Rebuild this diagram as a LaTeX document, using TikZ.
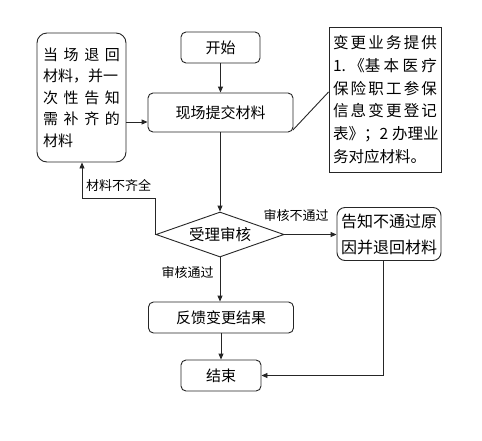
\documentclass[tikz,border=0pt]{standalone}
\usepackage{fontspec}
\setmainfont{Noto Sans CJK SC}
\usetikzlibrary{arrows.meta,shapes.geometric,calc}
\begin{document}
\begin{tikzpicture}[x=1pt,y=-1pt,
  line width=0.9pt,
  every node/.style={inner sep=0pt},
  box/.style={draw=black!85, rounded corners=5pt, font=\fontsize{15}{18}\selectfont, align=center},
  arr/.style={draw=black!85, -{Triangle[length=6pt,width=5pt]}},
  lbl/.style={font=\fontsize{13}{15}\selectfont},
]
\useasboundingbox[fill=white] (0,0) rectangle (482,440);

\node[box, minimum width=79pt, minimum height=31pt] (start) at (220.5,47.5) {开始};
\node[box, minimum width=145pt, minimum height=39pt] (submit) at (220.5,112.5) {现场提交材料};
\node[box, rounded corners=10pt, minimum width=89pt, minimum height=129pt, text width=77pt, align=left,
      font=\fontsize{15}{21.6}\selectfont] (left) at (81.5,97.5)
  {\makebox[77pt][s]{当\hfill 场\hfill 退\hfill 回}\\
   材料，并一\\
   \makebox[77pt][s]{次\hfill 性\hfill 告\hfill 知}\\
   \makebox[77pt][s]{需\hfill 补\hfill 齐\hfill 的}\\
   材料};
\node[draw=black!85, minimum width=112pt, minimum height=145pt, text width=104pt, align=left,
      font=\fontsize{15.5}{22.8}\selectfont] (note) at (385,99.5)
  {\makebox[104pt][s]{变\hfill 更\hfill 业\hfill 务\hfill 提\hfill 供}\\
   \makebox[104pt][s]{1.\hfill 《基\hfill 本\hfill 医\hfill 疗}\\
   \makebox[104pt][s]{保\hfill 险\hfill 职\hfill 工\hfill 参\hfill 保}\\
   \makebox[104pt][s]{信\hfill 息\hfill 变\hfill 更\hfill 登\hfill 记}\\
   \makebox[104pt][s]{表》；\hfill 2\hspace{4pt}\hfill 办\hfill 理\hfill 业}\\
   务对应材料。};
\node[draw=black!85, diamond, aspect=2.84, minimum width=128pt, minimum height=45pt,
      font=\fontsize{15.5}{18}\selectfont] (dia) at (220,234.5) {受理审核};
\node[box, rounded corners=8pt, minimum width=104pt, minimum height=53pt,
      font=\fontsize{16}{26}\selectfont] (rej) at (389,234) {告知不通过原\\因并退回材料};
\node[box, minimum width=145pt, minimum height=31pt] (feed) at (221,317.5) {反馈变更结果};
\node[box, minimum width=80pt, minimum height=31pt] (end) at (221,375.5) {结束};

\coordinate (k) at (82,198);

\draw[arr] (start) -- (submit.north -| start);
\draw[arr] (submit.south -| dia.north) -- (dia.north);
\draw[arr] ([yshift=-9.5pt]submit.west -| left.east) -- ([yshift=-9.5pt]submit.west);
\draw[draw=black!85] (submit.south east) ++(-0.5,-2.5) -- ([yshift=7.5pt]note.west);
\draw[arr] (dia.west) |- (k) -- (left.south -| k);
\node[lbl] (l1) at (118.5,185) {材料不齐全};
\draw[arr] (dia.east) -- (dia.east -| rej.west);
\node[lbl] (l2) at (296,216) {审核不通过};
\draw[arr] (dia.south) -- (feed.north -| dia.south);
\node[lbl] (l3) at (187.5,273) {审核通过};
\draw[arr] (feed.south -| end) -- (end.north);
\draw[arr] ([xshift=-6pt]rej.south) |- (end.east);
\end{tikzpicture}
\end{document}
